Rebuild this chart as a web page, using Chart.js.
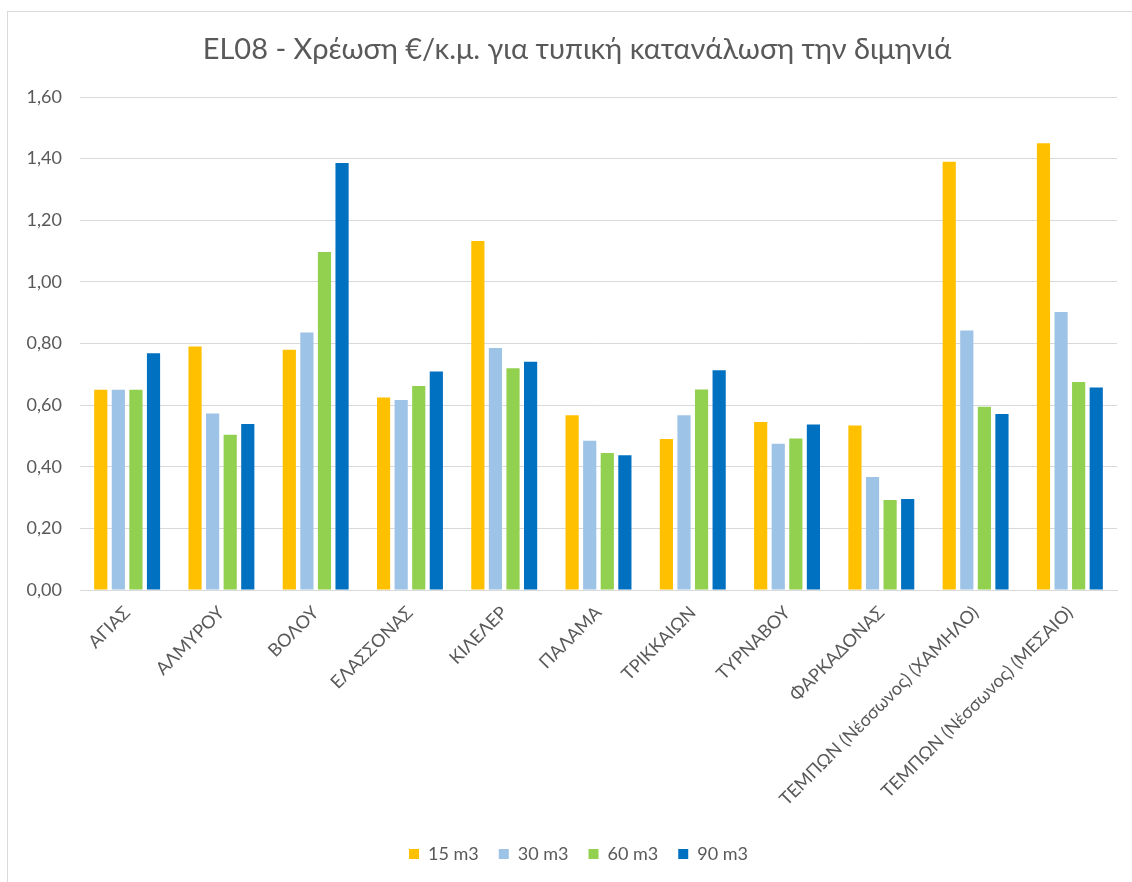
<!DOCTYPE html>
<html>
<head>
<meta charset="utf-8">
<script src="https://cdn.jsdelivr.net/npm/chart.js@4"></script>
<style>
  html, body { margin: 0; padding: 0; background: #fff; }
  #wrap { position: absolute; left: 0; top: 0; width: 1132px; height: 882px; }
  #frame { position: absolute; left: 7px; top: 11px; width: 1140px; height: 900px; border: 1px solid #D9D9D9; box-sizing: border-box; pointer-events: none; }
</style>
</head>
<body>
<div id="wrap"><canvas id="c" width="1132" height="882"></canvas></div>
<div id="frame"></div>
<script>
const titleText = 'EL08 - Χρέωση €/κ.μ. για τυπική κατανάλωση την διμηνιά';
const categories = ['ΑΓΙΑΣ', 'ΑΛΜΥΡΟΥ', 'ΒΟΛΟΥ', 'ΕΛΑΣΣΟΝΑΣ', 'ΚΙΛΕΛΕΡ', 'ΠΑΛΑΜΑ', 'ΤΡΙΚΚΑΙΩΝ', 'ΤΥΡΝΑΒΟΥ', 'ΦΑΡΚΑΔΟΝΑΣ', 'ΤΕΜΠΩΝ (Νέσσωνος) (ΧΑΜΗΛΟ)', 'ΤΕΜΠΩΝ (Νέσσωνος) (ΜΕΣΑΙΟ)'];
const seriesNames = ['15 m3', '30 m3', '60 m3', '90 m3'];
const v15 = [0.65, 0.79, 0.78, 0.625, 1.133, 0.567, 0.49, 0.545, 0.534, 1.39, 1.45];
const v30 = [0.65, 0.573, 0.836, 0.617, 0.785, 0.484, 0.567, 0.475, 0.367, 0.842, 0.902];
const v60 = [0.65, 0.504, 1.097, 0.662, 0.72, 0.445, 0.651, 0.492, 0.292, 0.595, 0.675];
const v90 = [0.768, 0.539, 1.386, 0.709, 0.741, 0.437, 0.713, 0.537, 0.295, 0.571, 0.657];
const colors = ['#FFC000', '#9DC3E6', '#92D050', '#0070C0'];
const yTicks = [0, 0.2, 0.4, 0.6, 0.8, 1.0, 1.2, 1.4, 1.6];

const values = [v15, v30, v60, v90];
const FONT = 'Lato, "Open Sans", sans-serif';
const GRAY = '#595959';

const titlePlugin = {
  id: 'customTitle',
  afterLayout(chart) {
    if (chart.legend) { chart.legend.left += 15; chart.legend.right += 15; }
  },
  afterDraw(chart) {
    const ctx = chart.ctx;
    ctx.save();
    ctx.font = '29px ' + FONT;
    ctx.fillStyle = GRAY;
    ctx.textAlign = 'center';
    ctx.textBaseline = 'middle';
    ctx.fillText(titleText, 577, 50);
    ctx.restore();
  }
};

new Chart(document.getElementById('c'), {
  type: 'bar',
  data: {
    labels: categories,
    datasets: seriesNames.map((n, i) => ({
      label: n,
      data: values[i],
      backgroundColor: colors[i],
      borderWidth: 0,
      barPercentage: 0.75,
      categoryPercentage: 0.746
    }))
  },
  plugins: [titlePlugin],
  options: {
    responsive: false,
    animation: false,
    devicePixelRatio: 1,
    layout: { padding: { left: 10, right: 15, top: 97, bottom: 9 } },
    plugins: {
      title: { display: false },
      legend: {
        position: 'bottom',
        labels: {
          color: GRAY,
          font: { family: FONT, size: 18 },
          boxWidth: 10,
          boxHeight: 10,
          padding: 20
        }
      },
      tooltip: { enabled: false }
    },
    scales: {
      x: {
        grid: { display: false },
        border: { color: '#D9D9D9', width: 1 },
        ticks: {
          color: GRAY,
          font: { family: FONT, size: 18 },
          minRotation: 45,
          maxRotation: 45,
          autoSkip: false,
          padding: 4
        },
        afterFit: (s) => { s.height = 235; }
      },
      y: {
        min: 0,
        max: 1.6,
        afterBuildTicks: (s) => { s.ticks = yTicks.map(v => ({ value: v })); },
        grid: { color: '#D9D9D9', lineWidth: 1, drawTicks: false },
        border: { display: false },
        ticks: {
          color: GRAY,
          font: { family: FONT, size: 18 },
          padding: 18,
          callback: (v) => Number(v).toFixed(2).replace('.', ',')
        },
        afterFit: (s) => { s.width = 70; }
      }
    }
  }
});
</script>
</body>
</html>
